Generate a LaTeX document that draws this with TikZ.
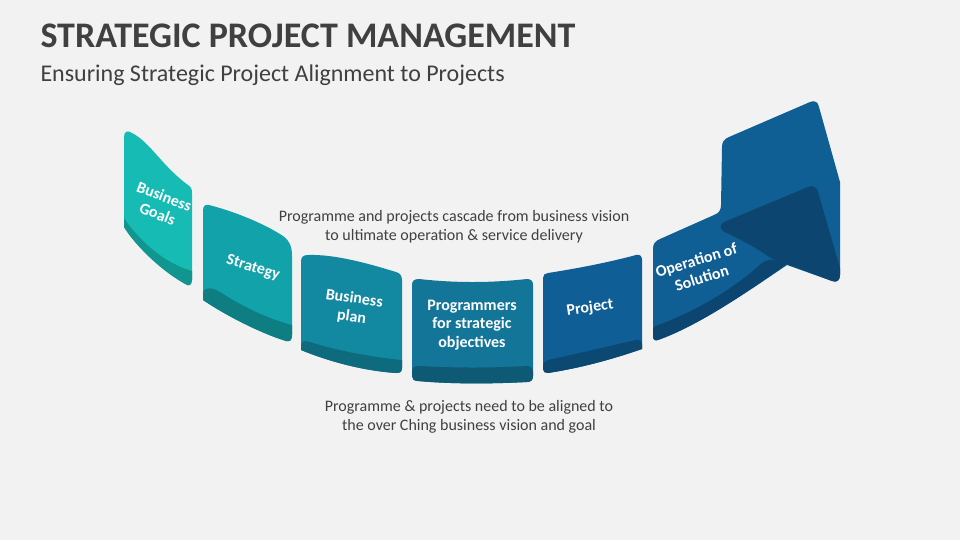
\documentclass[tikz,border=0pt]{standalone}
\usepackage{fontspec}
\setmainfont{Carlito}

\definecolor{bggray}{RGB}{242,242,242}
\definecolor{textgray}{RGB}{64,64,64}
\definecolor{faceA}{RGB}{22,188,180}
\definecolor{darkA}{RGB}{16,150,143}
\definecolor{faceB}{RGB}{17,163,169}
\definecolor{darkB}{RGB}{14,126,130}
\definecolor{faceC}{RGB}{19,137,161}
\definecolor{darkC}{RGB}{14,107,125}
\definecolor{faceD}{RGB}{19,118,153}
\definecolor{darkD}{RGB}{14,90,117}
\definecolor{faceE}{RGB}{15,95,150}
\definecolor{darkE}{RGB}{11,72,114}
\definecolor{faceF}{RGB}{15,94,148}
\definecolor{darkF}{RGB}{12,70,112}

\tikzset{every picture/.style={line width=0.75pt}}
\tikzset{
  paneltext/.style={text=white, font=\fontsize{12}{14}\selectfont\bfseries, align=center, inner sep=0pt},
  note/.style={text=textgray, font=\fontsize{12}{14.5}\selectfont, align=center, inner sep=0pt}
}

\begin{document}
\begin{tikzpicture}[x=0.75pt,y=0.75pt,yscale=-1,xscale=1]
%Background
\fill [bggray] (0,0) rectangle (960,540);

%Shape: Panel Business Goals
\fill [faceA] (124,137) .. controls (124,131) and (128,130) .. (132,133) .. controls (150,142) and (162,166) .. (188,185) .. controls (191,187) and (192,189) .. (192,193) -- (192,280) .. controls (160,270) and (135,245) .. (124,227) -- cycle ;
\fill [darkA] (124,218) .. controls (135,235) and (160,262) .. (192,271) -- (192,280) .. controls (192,285) and (189,287) .. (185,284) .. controls (160,270) and (135,245) .. (124,227) -- cycle ;
%Shape: Panel Strategy
\fill [faceB] (203,211) .. controls (203,206) and (205,204) .. (209,205) .. controls (240,213) and (268,226) .. (283,236) .. controls (290,241) and (292,247) .. (292,256) -- (292,335) .. controls (292,340) and (290,342) .. (286,341) .. controls (260,333) and (225,315) .. (203,300) -- cycle ;
\fill [darkB] (203,292) .. controls (205,287) and (212,287) .. (220,292) .. controls (240,305) and (265,318) .. (292,325) -- (292,335) .. controls (292,340) and (290,342) .. (286,341) .. controls (260,333) and (225,315) .. (203,300) -- cycle ;
%Shape: Panel Business plan
\fill [faceC] (301,262) .. controls (301,257) and (303,255) .. (308,255) .. controls (335,254) and (370,264) .. (396,272) .. controls (400,273) and (402,276) .. (402,280) -- (402,368) .. controls (402,372) and (400,373) .. (396,373) .. controls (365,371) and (330,362) .. (301,350) -- cycle ;
\fill [darkC] (301,346) .. controls (301,341) and (304,340) .. (310,342) .. controls (335,350) and (370,357) .. (402,360) -- (402,368) .. controls (402,372) and (400,373) .. (396,373) .. controls (365,371) and (330,362) .. (301,350) -- cycle ;
%Shape: Panel Programmers
\fill [faceD] (412,285) .. controls (412,281) and (414,279) .. (419,279) .. controls (455,283) and (490,283) .. (527,279) .. controls (531,279) and (533,281) .. (533,285) -- (533,376) .. controls (533,380) and (531,382) .. (527,382) .. controls (490,384) and (450,384) .. (418,381) .. controls (414,381) and (412,379) .. (412,376) -- cycle ;
\fill [darkD] (412,372) .. controls (412,368) and (414,366) .. (419,366) .. controls (455,368) and (490,368) .. (527,366) .. controls (531,366) and (533,368) .. (533,372) -- (533,376) .. controls (533,380) and (531,382) .. (527,382) .. controls (490,384) and (450,384) .. (418,381) .. controls (414,381) and (412,379) .. (412,376) -- cycle ;
%Shape: Panel Project
\fill [faceE] (543,278) .. controls (543,275) and (545,273) .. (548,273) .. controls (580,268) and (610,262) .. (636,255) .. controls (640,254) and (642,256) .. (642,260) -- (642,349) .. controls (610,360) and (580,368) .. (548,373) .. controls (545,373) and (543,372) .. (543,369) -- cycle ;
\fill [darkE] (543,366) .. controls (543,363) and (545,361) .. (548,360) .. controls (580,353) and (610,346) .. (636,340) .. controls (640,339) and (642,341) .. (642,344) -- (642,349) .. controls (610,360) and (580,368) .. (548,373) .. controls (545,373) and (543,372) .. (543,369) -- cycle ;
%Shape: Panel Operation with arrow
\fill [faceF] (653,249) .. controls (653,244) and (655,241) .. (660,239) -- (714,215) .. controls (719,213) and (721,210) .. (721,205) -- (722,147) .. controls (722,142) and (724,139) .. (729,137) -- (810,102) .. controls (815,100) and (818,102) .. (819,107) -- (840,182) -- (840,275) .. controls (840,280) and (837,283) .. (832,281) -- (787,265) .. controls (750,290) and (700,325) .. (658,340) .. controls (655,341) and (653,340) .. (653,336) -- cycle ;
\fill [darkF] (724,222) -- (808,187) .. controls (813,185) and (817,187) .. (818,192) -- (840,268) -- (840,275) .. controls (840,280) and (837,283) .. (832,281) -- (787,264) -- (772,259) .. controls (760,250) and (742,240) .. (727,233) .. controls (719,230) and (719,225) .. (724,222) -- cycle ;
\fill [darkF] (653,330) .. controls (653,327) and (655,326) .. (658,325) .. controls (700,310) and (738,285) .. (762,263) .. controls (768,258) and (777,260) .. (787,264) .. controls (750,290) and (700,325) .. (658,340) .. controls (655,341) and (653,340) .. (653,336) -- cycle ;

% Text Node
\node [text=textgray, font=\fontsize{27}{32}\selectfont\bfseries, anchor=base west, inner sep=0pt] (title) at (40,47) {STRATEGIC PROJECT MANAGEMENT};
% Text Node
\node [text=textgray, font=\fontsize{18}{22}\selectfont, anchor=base west, inner sep=0pt] (subtitle) at (40,81) {Ensuring Strategic Project Alignment to Projects};
% Text Node
\node [note] (topnote) at (454,227) {Programme and projects cascade from business vision\\to ultimate operation \& service delivery};
% Text Node
\node [note] (bottomnote) at (469,417) {Programme \& projects need to be aligned to\\the over Ching business vision and goal};
% Text Node
\node [paneltext, rotate=-21] (goals) at (161,205) {Business\\Goals};
% Text Node
\node [paneltext, rotate=-17] (strategy) at (253,268) {Strategy};
% Text Node
\node [paneltext, rotate=-8] (plan) at (353,308) {Business\\plan};
% Text Node
\node [paneltext] (programmers) at (472,325) {Programmers\\for strategic\\objectives};
% Text Node
\node [paneltext, rotate=8] (project) at (590,308) {Project};
% Text Node
\node [paneltext, rotate=17] (operation) at (699,269) {Operation of\\Solution};

\end{tikzpicture}
\end{document}
